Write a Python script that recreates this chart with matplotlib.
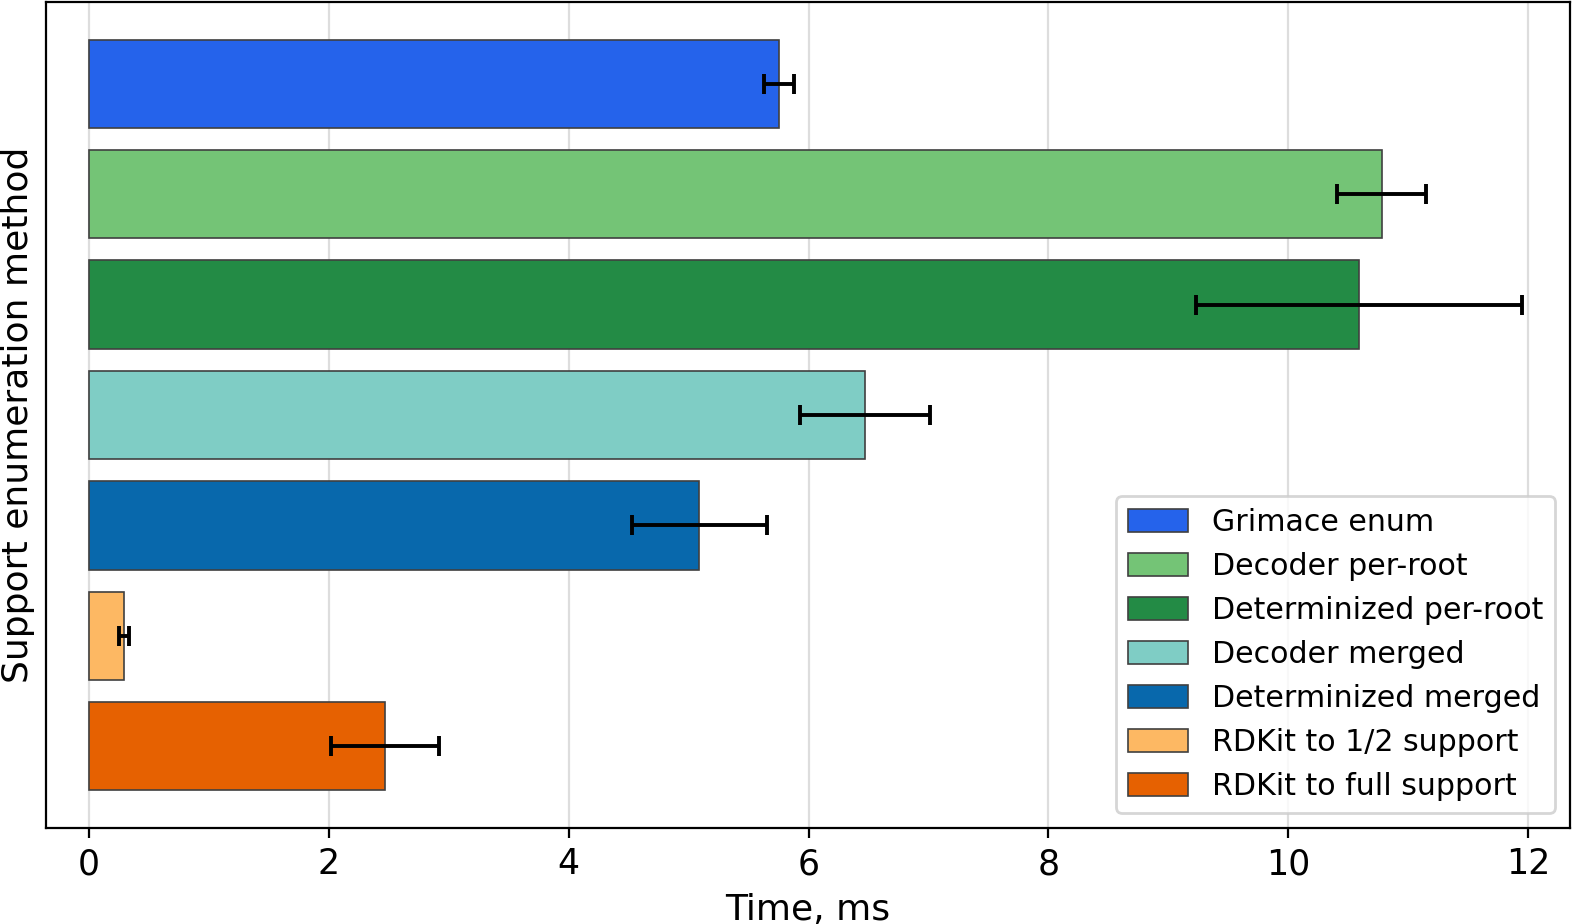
import matplotlib.pyplot as plt
import numpy as np

methods = [
    "Grimace enum",
    "Decoder per-root",
    "Determinized per-root",
    "Decoder merged",
    "Determinized merged",
    "RDKit to 1/2 support",
    "RDKit to full support",
]
times_ms = [5.75, 10.78, 10.59, 6.47, 5.09, 0.29, 2.47]
errors_ms = [0.125, 0.37, 1.36, 0.54, 0.56, 0.045, 0.45]
colors = ["#2563eb", "#74c476", "#238b45", "#7fcdc5", "#0868ac", "#fdb863", "#e66101"]


def main():
    fig, ax = plt.subplots(figsize=(7.86, 4.62), dpi=200)
    fig.subplots_adjust(left=46 / 1572, right=1570 / 1572, top=1 - 2 / 924, bottom=1 - 828 / 924)

    y = np.arange(len(methods))
    for i in range(len(methods)):
        ax.barh(
            y[i], times_ms[i], height=0.8, color=colors[i],
            edgecolor="#404040", linewidth=0.6, label=methods[i], zorder=2,
        )
        ax.errorbar(
            times_ms[i], y[i], xerr=errors_ms[i], fmt="none", ecolor="black",
            elinewidth=1.4, capsize=3.5, capthick=1.4, zorder=3,
        )

    ax.invert_yaxis()
    ax.set_yticks([])
    ax.set_xlim(-0.36, 12.35)
    ax.set_xticks(np.arange(0, 13, 2))
    ax.tick_params(axis="x", labelsize=12.5)
    ax.set_xlabel("Time, ms", fontsize=13)
    ax.set_ylabel("Support enumeration method", fontsize=13)
    ax.grid(True, axis="x", color="#dddddd", linewidth=0.8, zorder=0)
    ax.set_axisbelow(True)
    ax.legend(loc="lower right", fontsize=10.8, handleheight=0.8)

    fig.savefig("out.png", dpi=200)
    plt.close(fig)


if __name__ == "__main__":
    main()
